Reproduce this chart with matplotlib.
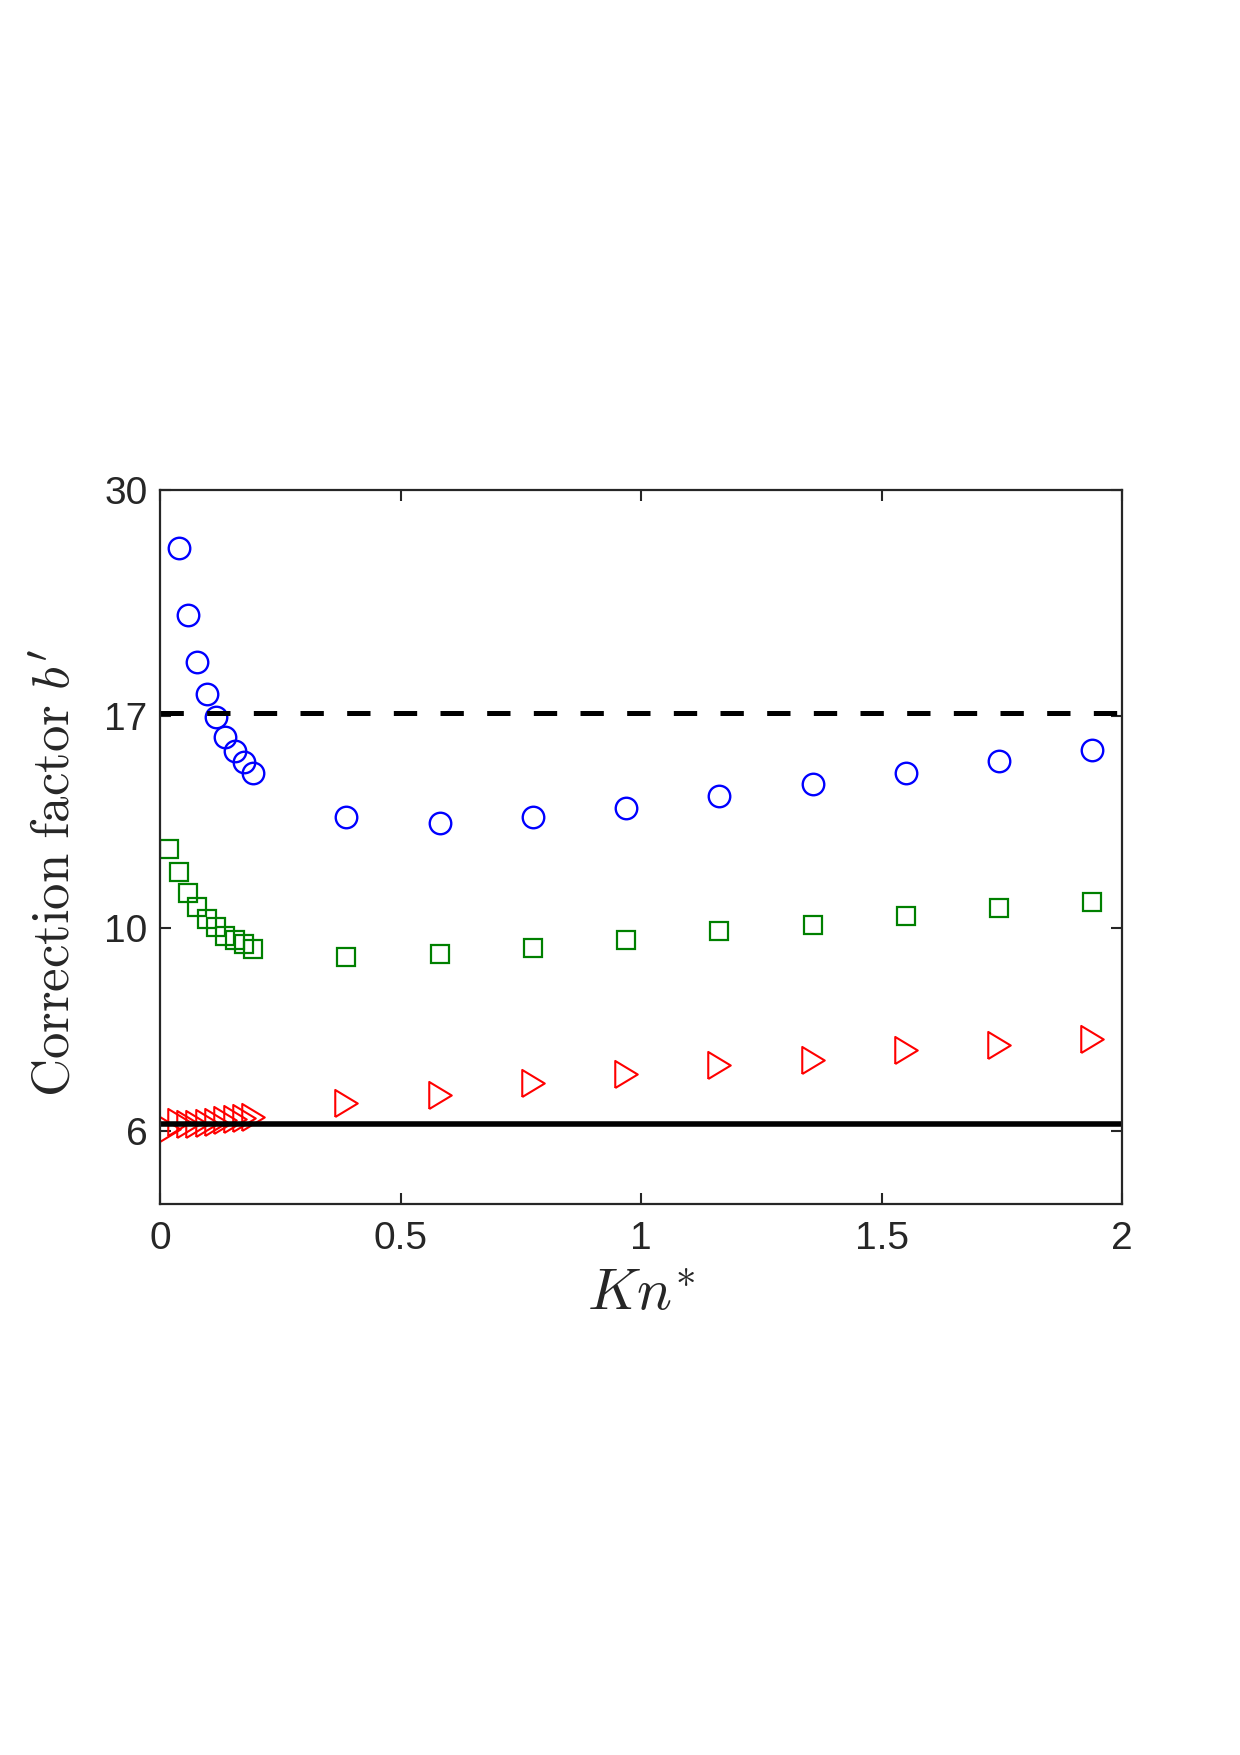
import matplotlib
matplotlib.use('Agg')
import matplotlib.pyplot as plt
from matplotlib.ticker import FixedLocator, NullLocator

# Kn* sample points (fine spacing near 0, coarse beyond)
kn_fine = [0.0194, 0.0388, 0.0581, 0.0775, 0.0969, 0.1163, 0.1357, 0.1550, 0.1744, 0.1938]
kn_coarse = [0.3876, 0.5814, 0.7752, 0.9690, 1.1628, 1.3566, 1.5504, 1.7442, 1.9380]

# blue circles (first fine point is above the axis range)
blue_kn = kn_fine[1:] + kn_coarse
blue_b = [25.96, 21.93, 19.50, 17.99, 16.98, 16.13, 15.57, 15.16, 14.74,
          13.22, 13.02, 13.21, 13.51, 13.91, 14.33, 14.75, 15.19, 15.64]

# green squares
green_kn = kn_fine + kn_coarse
green_b = [12.19, 11.51, 10.92, 10.53, 10.23, 10.01, 9.80, 9.69, 9.60, 9.49,
           9.29, 9.36, 9.50, 9.71, 9.93, 10.07, 10.30, 10.52, 10.68]

# red triangles
red_kn = kn_fine + kn_coarse
red_b = [6.04, 6.14, 6.11, 6.11, 6.12, 6.14, 6.17, 6.19, 6.21, 6.22,
         6.45, 6.58, 6.77, 6.93, 7.09, 7.18, 7.35, 7.46, 7.57]

# horizontal reference levels
upper_ref = 17.15
lower_ref = 6.11

y_ticks = [6, 10, 17, 30]
x_ticks = [0, 0.5, 1, 1.5, 2]
x_ticklabels = ['0', '0.5', '1', '1.5', '2']

plt.rcParams['font.family'] = ['Liberation Sans', 'DejaVu Sans']
plt.rcParams['mathtext.fontset'] = 'cm'
plt.rcParams['lines.scale_dashes'] = False

axis_col = '#262626'

fig = plt.figure(figsize=(12.4, 17.55), dpi=100)
ax = fig.add_axes([160 / 1240, 1 - 1204 / 1755, 962 / 1240, 714 / 1755])

# MATLAB-like right pointing triangle (a bit taller than wide)
tri = [(-0.83, -1.0), (0.83, 0.0), (-0.83, 1.0), (-0.83, -1.0)]

ax.plot(blue_kn, blue_b, linestyle='none', marker='o', ms=15.5, mfc='none',
        mec=(0, 0, 1), mew=1.7)
ax.plot(green_kn, green_b, linestyle='none', marker='s', ms=12.5, mfc='none',
        mec=(0, 0.5, 0), mew=1.6)
ax.plot(red_kn, red_b, linestyle='none', marker=tri, ms=19.5, mfc='none',
        mec=(1, 0, 0), mew=1.5)

ax.axhline(upper_ref, color='k', lw=3.6, dashes=(16.8, 16.8), dash_capstyle='butt')
ax.axhline(lower_ref, color='k', lw=4.0, solid_capstyle='butt')

ax.set_yscale('log')
ax.set_ylim(5, 30)
ax.set_xlim(0, 2)
ax.yaxis.set_major_locator(FixedLocator(y_ticks))
ax.yaxis.set_minor_locator(NullLocator())
ax.set_yticklabels([str(t) for t in y_ticks])
ax.set_xticks(x_ticks)
ax.set_xticklabels(x_ticklabels)

ax.tick_params(which='both', direction='in', top=True, right=True, length=8,
               width=1.5, color=axis_col, labelcolor=axis_col, labelsize=28)
ax.tick_params(axis='x', pad=12)
ax.tick_params(axis='y', pad=9)
for s in ax.spines.values():
    s.set_linewidth(1.6)
    s.set_color(axis_col)

ax.set_xlabel(r'$Kn^{*}$', fontsize=42, color=axis_col)
ax.set_ylabel(r'$\mathrm{Correction\ factor}\ b^{\prime}$', fontsize=38, color=axis_col)
ax.xaxis.set_label_coords(0.5, -0.09)
ax.yaxis.set_label_coords(-0.083, 0.4636)

fig.savefig('out.png', dpi=100)
